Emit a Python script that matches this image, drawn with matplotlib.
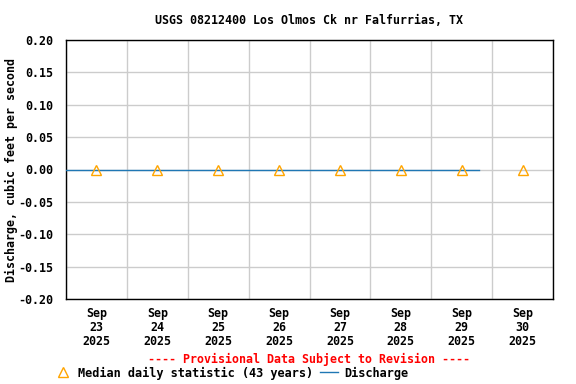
import numpy as np
import pandas as pd
import matplotlib
matplotlib.use('Agg')
import matplotlib.pyplot as plt
import matplotlib.dates as mdates
from matplotlib.lines import Line2D

plt.rcParams['font.family'] = 'DejaVu Sans Mono'
plt.rcParams['font.weight'] = 'bold'

# median daily statistic (43 years), at noon each day
median_days = pd.date_range('2025-09-23 12:00', '2025-09-30 12:00', freq='D')
median_vals = [0.0, 0.0, 0.0, 0.0, 0.0, 0.0, 0.0, 0.0]

# discharge record
discharge_times = pd.to_datetime(['2025-09-23 00:00', '2025-09-29 18:45'])
discharge_vals = [0.0, 0.0]

tick_labels = ['Sep\n23\n2025', 'Sep\n24\n2025', 'Sep\n25\n2025', 'Sep\n26\n2025',
               'Sep\n27\n2025', 'Sep\n28\n2025', 'Sep\n29\n2025', 'Sep\n30\n2025']
y_ticks = [-0.20, -0.15, -0.10, -0.05, 0.0, 0.05, 0.10, 0.15, 0.20]

fig = plt.figure(figsize=(5.76, 3.84), dpi=100)
ax = fig.add_axes([66/576, 1 - 299/384, (553-66)/576, (299-40)/384])

fs = 8.4
ax.plot(discharge_times, discharge_vals, color='#1f77b4', lw=1, zorder=3)
ax.plot(median_days, median_vals, linestyle='none', marker='^', markersize=7,
        markerfacecolor='none', markeredgecolor='orange', markeredgewidth=1, zorder=4)

ax.set_xlim(pd.Timestamp('2025-09-23'), pd.Timestamp('2025-10-01'))
ax.set_ylim(-0.20, 0.20)
ax.set_yticks(y_ticks)
ax.set_yticklabels([f'{v:.2f}' for v in y_ticks], fontsize=fs, fontweight='bold')
ax.set_xticks(median_days)
ax.set_xticklabels(tick_labels, fontsize=fs, fontweight='bold', linespacing=1.08)
ax.set_xticks(pd.date_range('2025-09-23', '2025-10-01', freq='D'), minor=True)
ax.tick_params(which='both', length=0)
ax.tick_params(axis='x', pad=6)
ax.tick_params(axis='y', pad=9)
ax.grid(which='minor', axis='x', color='#cccccc', lw=1)
ax.grid(which='major', axis='y', color='#cccccc', lw=1)
ax.grid(which='major', axis='x', visible=False)
for s in ax.spines.values():
    s.set_linewidth(1)
    s.set_color('black')

ax.set_ylabel('Discharge, cubic feet per second', fontsize=fs, fontweight='bold')
ax.yaxis.set_label_coords(-48/487, 0.5)
fig.text(309/576, 1 - 20/384, 'USGS 08212400 Los Olmos Ck nr Falfurrias, TX',
         ha='center', va='center', fontsize=fs, fontweight='bold')
fig.text(309/576, 1 - 359/384, '---- Provisional Data Subject to Revision ----',
         ha='center', va='center', fontsize=fs, fontweight='bold', color='red')

handles = [Line2D([], [], linestyle='none', marker='^', markersize=7, markerfacecolor='none',
                  markeredgecolor='orange'),
           Line2D([], [], color='#1f77b4', lw=1)]
fig.legend(handles, ['Median daily statistic (43 years)', 'Discharge'],
           loc='center left', bbox_to_anchor=(54/576, 1 - 373/384), ncol=2, frameon=False,
           prop={'size': 8.6, 'weight': 'bold'}, handlelength=1.5, handletextpad=0.5,
           columnspacing=0.6, borderpad=0, borderaxespad=0)

fig.savefig('out.png', dpi=100)
